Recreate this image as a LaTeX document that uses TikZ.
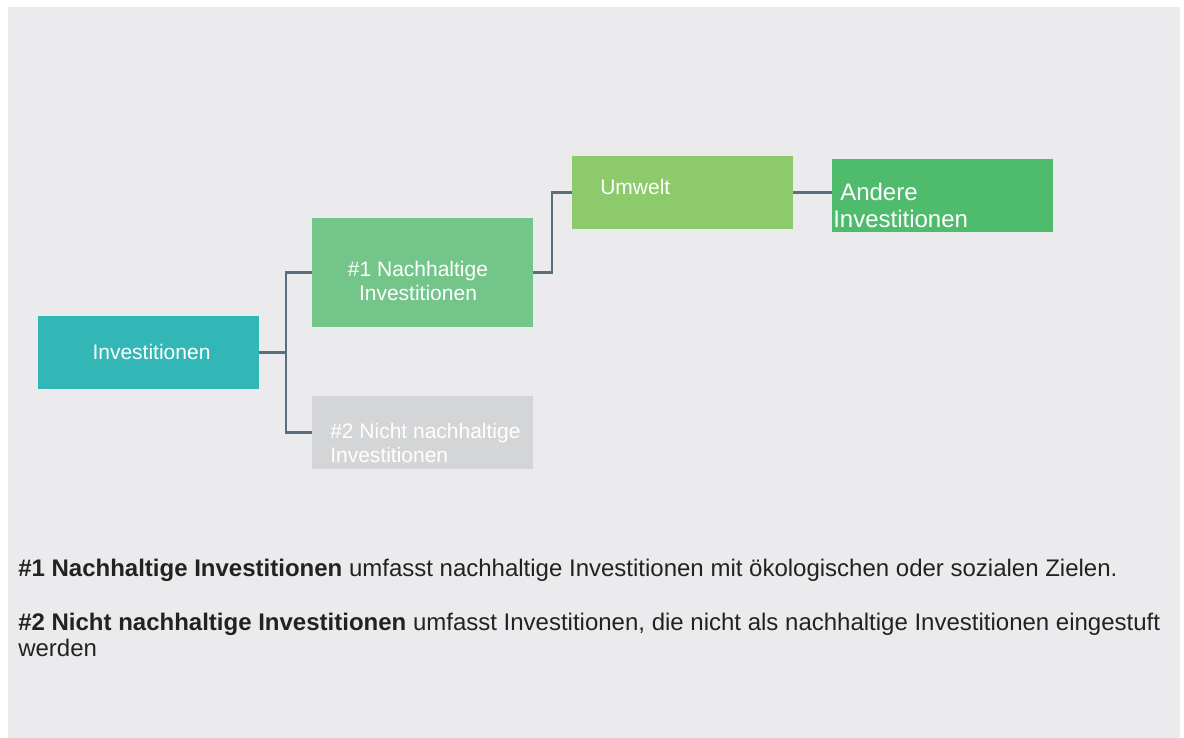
\documentclass[tikz,border=0pt]{standalone}
\usepackage{fontspec}
\setmainfont{Liberation Sans}
\usetikzlibrary{positioning}
\definecolor{bggray}{HTML}{EBEBED}
\definecolor{teal}{HTML}{33B6B6}
\definecolor{nhgreen}{HTML}{73C58A}
\definecolor{nnhgray}{HTML}{D4D5D7}
\definecolor{umwgreen}{HTML}{8DCA6C}
\definecolor{andgreen}{HTML}{4FBB6C}
\definecolor{linkgray}{HTML}{5B6E7B}
\definecolor{notetext}{HTML}{222222}

\begin{document}
\begin{tikzpicture}[x=0.75pt,y=-0.75pt,
  box/.style={rectangle,minimum width=165.75pt,minimum height=54.75pt,inner sep=0pt},
  txt/.style={text=white,inner sep=0pt,font=\fontsize{15.75}{18}\selectfont},
  note/.style={text=notetext,inner sep=0pt,align=left,font=\fontsize{18}{19.5}\selectfont},
  lnk/.style={draw=linkgray,line width=1.6pt}]

        \useasboundingbox (0,0) rectangle (1184,738);
        \fill[bggray] (8,7) rectangle (1180,738);

        % boxes
        \node[box,fill=teal] (inv) at (148.5,352.5) {};
        \node[box,fill=nhgreen,minimum height=81.75pt] (nh) at (422.5,272.5) {};
        \node[box,fill=nnhgray] (nnh) at (422.5,432.5) {};
        \node[box,fill=umwgreen] (umw) at (682.5,192.5) {};
        \node[box,fill=andgreen] (and) at (942.5,195.5) {};

        \node[txt] (inv-t) at (151.5,352) {Investitionen};
        \node[txt,align=center] (nh-t) at (418,281) {\#1 Nachhaltige\\Investitionen};
        \node[txt,align=left,anchor=west] (nnh-t) at (330,443) {\#2 Nicht nachhaltige\\Investitionen};
        \node[txt,anchor=west] (umw-t) at (600,187) {Umwelt};
        \node[txt,align=left,anchor=west,font=\fontsize{18}{20.25}\selectfont] (and-t) at (833,205.5) {\hspace*{5.25pt}Andere\\Investitionen};

        % links
        \coordinate (f1) at (286,352.5);
        \draw[lnk] (inv.east) -- (f1);
        \draw[lnk] (f1) |- (nh.west);
        \draw[lnk] (f1) |- (nnh.west);
        \draw[lnk] (nh.east) -- ++(19,0) |- (umw.west);
        \draw[lnk] (umw.east) -- (umw.east -| and.west);

        % notes
        \node[note,anchor=base west] (note1) at (18,576) {\textbf{\#1 Nachhaltige Investitionen} umfasst nachhaltige Investitionen mit ökologischen oder sozialen Zielen.};
        \node[note,anchor=base west] (note2) at (18,656) {\textbf{\#2 Nicht nachhaltige Investitionen} umfasst Investitionen, die nicht als nachhaltige Investitionen eingestuft\\werden};

\end{tikzpicture}
\end{document}
